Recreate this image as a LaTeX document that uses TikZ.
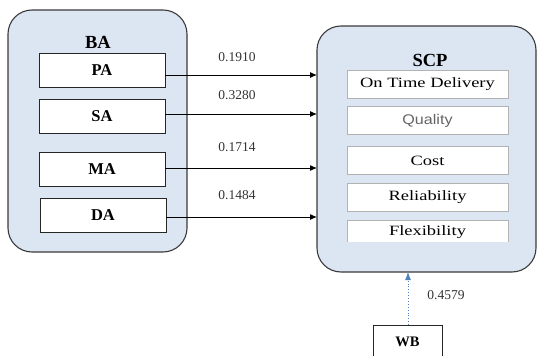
\documentclass[tikz,border=0pt]{standalone}
\usepackage{fontspec}
\setmainfont{Liberation Serif}
\newfontfamily\labelsans{Liberation Sans}
\usetikzlibrary{arrows.meta}
\definecolor{panelfill}{HTML}{DCE6F2}
\definecolor{panelline}{HTML}{3A3A3A}
\definecolor{linkblue}{HTML}{4F81BD}
\tikzset{
  panel/.style={draw=panelline, line width=1.1pt, fill=panelfill, rounded corners=24pt},
  factorbox/.style={draw=black!85, line width=0.9pt, fill=white, minimum width=126pt, minimum height=34pt,
    font=\fontsize{16.5}{18}\selectfont\bfseries},
  measurebox/.style={draw=gray!60, line width=0.8pt, fill=white, minimum width=161pt, minimum height=28pt},
  paneltitle/.style={font=\fontsize{18.5}{20}\selectfont\bfseries},
  weight/.style={font=\fontsize{13.5}{15}\selectfont, text=black!80},
  link/.style={draw=black, line width=1pt, -{Latex[length=7pt,width=6pt]}},
}
\newcommand{\widetext}[1]{\scalebox{1.3}[1]{\fontsize{14.2}{16}\selectfont #1}}
\begin{document}
\begin{tikzpicture}[x=1pt,y=-1pt]
  \useasboundingbox (0,0) rectangle (539,356);
  % left panel: BA and its four factors
  \draw[panel] (8,10) rectangle (187,252);
  \node[paneltitle] (ba) at (98,42) {BA};
  \node[factorbox] (pa) at (102,70.5) {PA};
  \node[factorbox] (sa) at (102,116) {SA};
  \node[factorbox] (ma) at (102,169) {MA};
  \node[factorbox] (da) at (103,215) {DA};
  % right panel: SCP and its five measures
  \draw[panel] (317,26) rectangle (536,272);
  \node[paneltitle] (scp) at (430,60) {SCP};
  \node[measurebox] (otd) at (427.5,84) {\widetext{On Time Delivery}};
  \node[measurebox] (qual) at (427.5,120.5) {\labelsans\fontsize{14}{16}\selectfont\textcolor{black!60}{\scalebox{1.15}[1]{Quality}}};
  \node[measurebox] (cost) at (427.5,160.5) {\widetext{Cost}};
  \node[measurebox] (rel) at (427.5,197.5) {\widetext{Reliability}};
  % last measure runs into the panel's lower edge: no bottom line
  \fill[white] (347,220) rectangle (508,242);
  \draw[gray!60, line width=0.8pt] (347,242) -- (347,220) -- (508,220) -- (508,242);
  \node (flex) at (427.5,232) {\widetext{Flexibility}};
  \coordinate (scpbottom) at (408,272);
  % paths with their weights
  \coordinate (in1) at (317,75);
  \coordinate (in2) at (317,114);
  \coordinate (in3) at (317,168);
  \coordinate (in4) at (317,217);
  \draw[link] (pa.east |- in1) -- (in1);
  \draw[link] (sa.east |- in2) -- (in2);
  \draw[link] (ma.east |- in3) -- (in3);
  \draw[link] (da.east |- in4) -- (in4);
  \node[weight] (w1) at (237,57) {0.1910};
  \node[weight] (w2) at (237,95) {0.3280};
  \node[weight] (w3) at (237,147) {0.1714};
  \node[weight] (w4) at (237,195) {0.1484};
  % WB box, cut by the lower edge
  \draw[black!85, line width=0.9pt, fill=white] (373,362) -- (373,325) -- (442,325) -- (442,362);
  \node[font=\fontsize{14.5}{16}\selectfont\bfseries] (wb) at (407.5,342) {WB};
  \coordinate (wbtop) at (408,325);
  \draw[linkblue, line width=0.9pt, dotted, -{Latex[length=8pt,width=6pt]}] (wbtop) -- (scpbottom);
  \node[weight] (w5) at (446,295) {0.4579};
\end{tikzpicture}
\end{document}
